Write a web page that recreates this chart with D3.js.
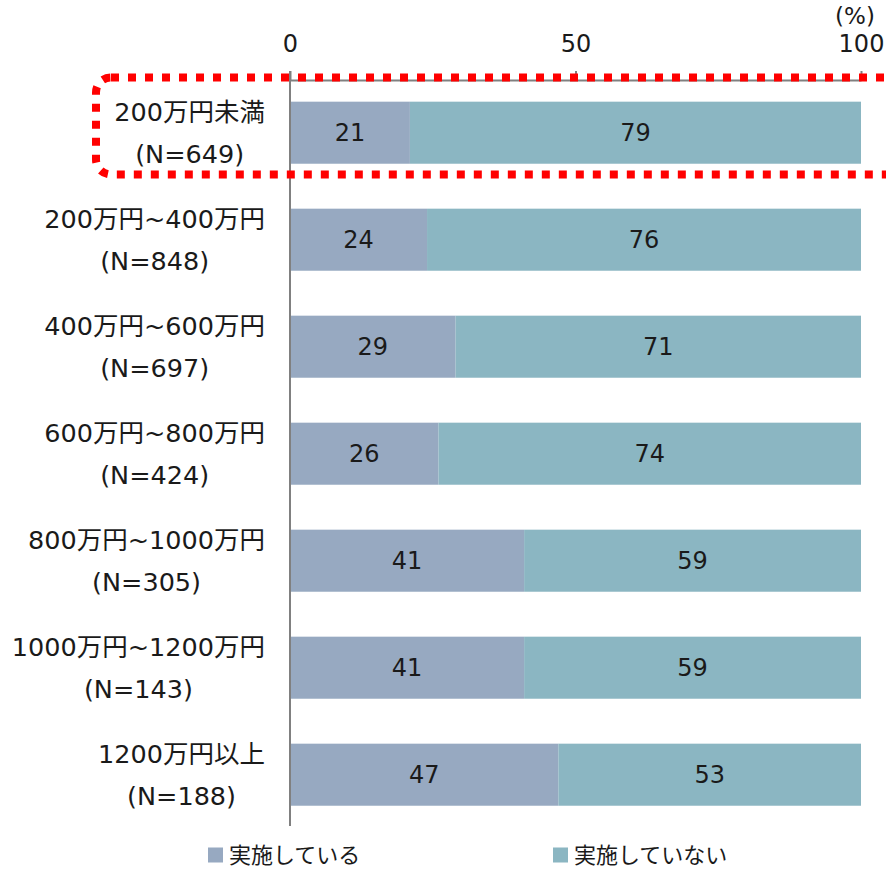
<!DOCTYPE html>
<html>
<head>
<meta charset="utf-8">
<script src="https://cdnjs.cloudflare.com/ajax/libs/d3/7.8.5/d3.min.js"></script>
<style>
  html, body { margin: 0; padding: 0; background: #fff; }
  svg { display: block; font-family: "DejaVu Sans", "Noto Sans CJK JP", sans-serif; }
</style>
</head>
<body>
<svg id="chart" width="886" height="869"></svg>
<script>
const categories = [
  "200万円未満",
  "200万円~400万円",
  "400万円~600万円",
  "600万円~800万円",
  "800万円~1000万円",
  "1000万円~1200万円",
  "1200万円以上"
];
const sampleSizes = [649, 848, 697, 424, 305, 143, 188];
const implemented = [21, 24, 29, 26, 41, 41, 47];
const notImplemented = [79, 76, 71, 74, 59, 59, 53];
const seriesNames = ["実施している", "実施していない"];
const seriesColors = ["#97a9c1", "#8bb6c2"];
const tickValues = [0, 50, 100];

const svg = d3.select("#chart");

const xScale = d3.scaleLinear().domain([0, 100]).range([290, 861]);
const yScale = d3.scaleBand()
  .domain(categories)
  .range([79.2, 828.2])
  .paddingInner(0.42)
  .paddingOuter(0.21);

const rows = categories.map((c, i) => ({
  name: c,
  n: sampleSizes[i],
  segs: [
    { key: 0, start: 0, value: implemented[i] },
    { key: 1, start: implemented[i], value: notImplemented[i] }
  ]
}));

// bars
const rowG = svg.selectAll(".row")
  .data(rows)
  .enter()
  .append("g")
  .attr("class", "row");

rowG.selectAll("rect")
  .data((d) => d.segs.map((s) => ({ ...s, name: d.name })))
  .enter()
  .append("rect")
  .attr("x", (d) => xScale(d.start))
  .attr("y", (d) => yScale(d.name))
  .attr("width", (d) => xScale(d.start + d.value) - xScale(d.start))
  .attr("height", yScale.bandwidth())
  .attr("fill", (d) => seriesColors[d.key]);

rowG.selectAll(".val")
  .data((d) => d.segs.map((s) => ({ ...s, name: d.name })))
  .enter()
  .append("text")
  .attr("class", "val")
  .attr("x", (d) => xScale(d.start + d.value / 2))
  .attr("y", (d) => yScale(d.name) + yScale.bandwidth() / 2)
  .attr("dy", "0.36em")
  .attr("text-anchor", "middle")
  .attr("font-size", 24)
  .attr("fill", "#1a1a1a")
  .text((d) => d.value);

// category labels (two lines, centred on each other, block right-aligned)
rows.forEach((d) => {
  const cy = yScale(d.name) + yScale.bandwidth() / 2;
  const t1 = svg.append("text")
    .attr("font-size", 25.5)
    .attr("fill", "#1a1a1a")
    .attr("text-anchor", "middle")
    .attr("y", cy - 21)
    .attr("dy", "0.36em")
    .text(d.name);
  const w = t1.node().getComputedTextLength();
  const cx = 265 - w / 2;
  t1.attr("x", cx);
  svg.append("text")
    .attr("font-size", 25.5)
    .attr("fill", "#1a1a1a")
    .attr("text-anchor", "middle")
    .attr("x", cx)
    .attr("y", cy + 21)
    .attr("dy", "0.36em")
    .text(`(N=${d.n})`);
});

// top axis
const axis = svg.append("g")
  .attr("transform", "translate(0,80)")
  .call(d3.axisTop(xScale).tickValues(tickValues).tickSize(9).tickSizeOuter(0).tickPadding(19));
axis.select(".domain").attr("stroke", "#808080").attr("stroke-width", 2);
axis.selectAll(".tick line").attr("stroke", "#808080").attr("stroke-width", 2);
axis.selectAll(".tick text")
  .attr("font-size", 24)
  .attr("fill", "#1a1a1a")
  .attr("font-family", "DejaVu Sans, sans-serif");

svg.append("text")
  .attr("x", 855)
  .attr("y", 16)
  .attr("dy", "0.36em")
  .attr("text-anchor", "middle")
  .attr("font-size", 23)
  .attr("fill", "#1a1a1a")
  .text("(%)");

// vertical baseline
svg.append("line")
  .attr("x1", xScale(0))
  .attr("x2", xScale(0))
  .attr("y1", 71)
  .attr("y2", 826)
  .attr("stroke", "#808080")
  .attr("stroke-width", 2);

// red dotted highlight
svg.append("rect")
  .attr("x", 96)
  .attr("y", 77.5)
  .attr("width", 830)
  .attr("height", 97)
  .attr("rx", 15)
  .attr("fill", "none")
  .attr("stroke", "#ff0000")
  .attr("stroke-width", 8)
  .attr("stroke-dasharray", "8,9");

// legend
const legendX = [208, 553];
const legend = svg.selectAll(".legend")
  .data(seriesNames)
  .enter()
  .append("g")
  .attr("class", "legend")
  .attr("transform", (d, i) => `translate(${legendX[i]},855)`);

legend.append("rect")
  .attr("x", 0)
  .attr("y", -7.5)
  .attr("width", 15)
  .attr("height", 15)
  .attr("fill", (d, i) => seriesColors[i]);

legend.append("text")
  .attr("x", 21)
  .attr("dy", "0.36em")
  .attr("font-size", 22)
  .attr("fill", "#1a1a1a")
  .text((d) => d);
</script>
</body>
</html>
